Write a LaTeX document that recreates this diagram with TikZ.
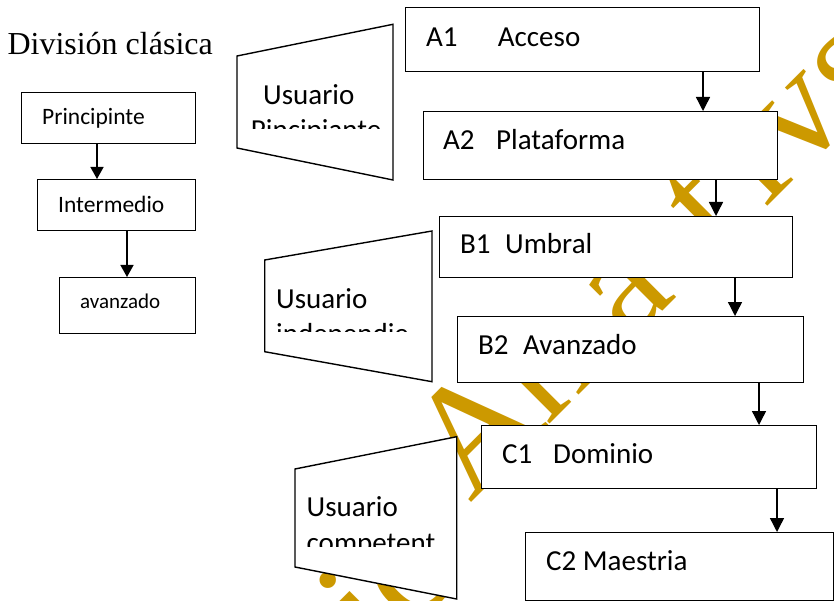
\documentclass[tikz,border=0pt]{standalone}
\usepackage{fontspec}
\setmainfont{Liberation Serif}
\newfontfamily\calib{Carlito}
\usetikzlibrary{arrows.meta}
\definecolor{wmcol}{RGB}{204,153,0}
\begin{document}
\begin{tikzpicture}[x=1pt,y=1pt,
  box/.style={draw=black, line width=1.4pt, fill=white, rectangle, inner sep=0pt, anchor=north west},
  lbl/.style={anchor=base west, inner sep=0pt, font=\calib\fontsize{29}{29}\selectfont},
  lbls/.style={anchor=base west, inner sep=0pt, font=\calib\fontsize{23.5}{23.5}\selectfont},
  arr/.style={line width=1.4pt, -{Triangle[length=14pt,width=14pt]}},
  arrs/.style={line width=1.4pt, -{Triangle[length=12pt,width=13pt]}},
  wm/.style={anchor=base west, inner sep=0pt, rotate=45, text=wmcol, font=\fontsize{155}{155}\selectfont},
  trap/.style={draw=black, line width=1.4pt, fill=white, line join=miter}]
\useasboundingbox (0,0) rectangle (834,-601);
\fill[white] (0,0) rectangle (834,-601);
\clip (0,0) rectangle (834,-601);
% watermark
\node[wm] (wm0) at ({470-0.7071*175+34},{-504-0.7071*175-34}) {ic};
\node[wm] (wm1) at (470,-504) {A};
\node[wm] (wm2) at ({470+0.7071*110},{-504+0.7071*110}) {n};
\node[wm] (wm3) at ({470+0.7071*225},{-504+0.7071*225}) {a};
\node[wm] (wm4) at ({470+0.7071*351},{-504+0.7071*351}) {t};
\node[wm] (wm5) at ({470+0.7071*418},{-504+0.7071*418}) {i};
\node[wm] (wm6) at ({470+0.7071*466},{-504+0.7071*466}) {v};
\node[wm] (wm7) at ({470+0.7071*546},{-504+0.7071*546}) {s};
% title
\node[anchor=base west, inner sep=0pt, font=\fontsize{32}{32}\selectfont] (title) at (7.3,-55) {División clásica};
% left column
\node[box, minimum width=174pt, minimum height=51pt] (p) at (21,-92) {};
\node[box, minimum width=158pt, minimum height=51pt] (m) at (37,-179) {};
\node[box, minimum width=136pt, minimum height=56pt] (v) at (59,-277) {};
\node[lbls] (pt) at (42,-125) {Principinte};
\node[lbls] (mt) at (58,-212.7) {Intermedio};
\node[lbls, font=\calib\fontsize{21}{21}\selectfont] (vt) at (80,-308) {avanzado};
\coordinate (xp) at (97,0);
\coordinate (xm) at (127,0);
\draw[arrs] (p.south -| xp) -- (m.north -| xp);
\draw[arrs] (m.south -| xm) -- (v.north -| xm);
% trapezoids
\coordinate (t1a) at (237,-56); \coordinate (t1b) at (393,-24.3);
\coordinate (t1c) at (393,-180); \coordinate (t1d) at (237,-148);
\draw[trap] (t1a) -- (t1b) -- (t1c) -- (t1d) -- cycle;
\node[lbl] (t1u) at (263,-105) {Usuario};
\begin{scope}
\clip (237,-100) rectangle (393,-128.3);
\node[lbl] (t1p) at (250.7,-140) {Pincipiante};
\end{scope}
\coordinate (t2a) at (264.7,-260); \coordinate (t2b) at (432,-231);
\coordinate (t2c) at (432,-381.7); \coordinate (t2d) at (264.7,-351.7);
\draw[trap] (t2a) -- (t2b) -- (t2c) -- (t2d) -- cycle;
\node[lbl] (t2u) at (276,-308) {Usuario};
\begin{scope}
\clip (264.7,-300) rectangle (432,-331.7);
\node[lbl] (t2p) at (276,-343) {independie};
\end{scope}
\coordinate (t3a) at (295,-469); \coordinate (t3b) at (456.7,-436.7);
\coordinate (t3c) at (456.7,-599); \coordinate (t3d) at (295,-567);
\draw[trap] (t3a) -- (t3b) -- (t3c) -- (t3d) -- cycle;
\node[lbl] (t3u) at (306.5,-516.7) {Usuario};
\begin{scope}
\clip (295,-510) rectangle (456.7,-546.7);
\node[lbl] (t3p) at (306.5,-552.5) {competent};
\end{scope}
% main boxes
\node[box, minimum width=354pt, minimum height=64pt] (a1) at (405,-7) {};
\node[box, minimum width=354pt, minimum height=68pt] (a2) at (423,-111) {};
\node[box, minimum width=353pt, minimum height=61pt] (b1) at (439,-216) {};
\node[box, minimum width=346pt, minimum height=66pt] (b2) at (457,-316) {};
\node[box, minimum width=335pt, minimum height=63pt] (c1) at (481,-425) {};
\node[box, minimum width=308pt, minimum height=67.5pt] (c2) at (525,-532) {};
\node[lbl] (a1t) at (426,-46.7) {\makebox[71.7pt][l]{A1}Acceso};
\node[lbl] (a2t) at (443,-150) {\makebox[53pt][l]{A2}Plataforma};
\node[lbl] (b1t) at (460,-254) {\makebox[45pt][l]{B1}Umbral};
\node[lbl] (b2t) at (478,-354) {\makebox[45pt][l]{B2}Avanzado};
\node[lbl] (c1t) at (502,-463) {\makebox[51pt][l]{C1}Dominio};
\node[lbl] (c2t) at (546,-570) {C2 Maestria};
\coordinate (x1) at (703,0);
\coordinate (x2) at (716,0);
\coordinate (x3) at (735,0);
\coordinate (x4) at (759,0);
\coordinate (x5) at (777,0);
\draw[arr] (a1.south -| x1) -- (a2.north -| x1);
\draw[arr] (a2.south -| x2) -- (b1.north -| x2);
\draw[arr] (b1.south -| x3) -- (b2.north -| x3);
\draw[arr] (b2.south -| x4) -- (c1.north -| x4);
\draw[arr] (c1.south -| x5) -- (c2.north -| x5);
\end{tikzpicture}
\end{document}
